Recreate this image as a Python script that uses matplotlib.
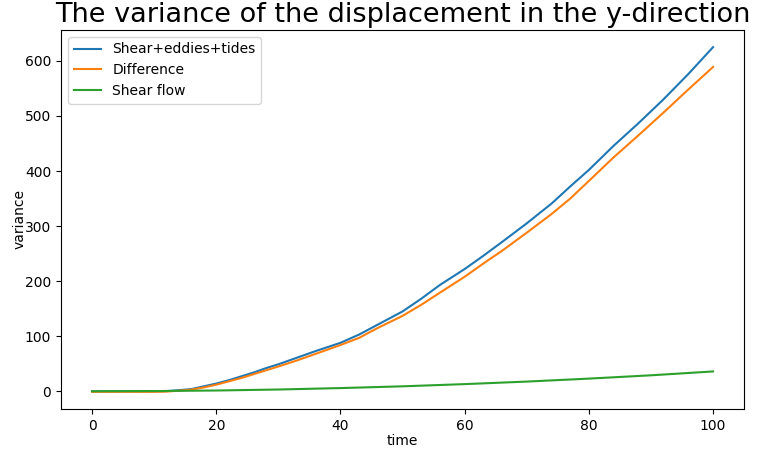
import numpy as np
import matplotlib
matplotlib.use("Agg")
import matplotlib.pyplot as plt

# variance of y-displacement vs time for the three runs
t_total = [0, 5, 10, 12, 14, 16, 18, 20, 22, 24, 26, 28, 30, 33, 36, 40, 43, 46, 50,
           53, 56, 60, 63, 66, 70, 74, 77, 80, 84, 88, 92, 96, 100]
var_total = [0, 0, 0, 0.3, 2, 4, 9, 14, 20, 27, 34, 42, 49, 61, 73, 88, 103, 121, 145,
             168, 193, 222, 246, 271, 305, 341, 372, 402, 446, 487, 530, 576, 625]
var_diff = [-1, -1, -1, -0.5, 1, 3, 7, 12, 18, 24, 31, 38, 45, 56, 68, 84, 97, 115, 137,
            157, 179, 208, 232, 255, 288, 322, 350, 382, 425, 465, 506, 548, 589]

t_shear = [0, 10, 20, 30, 40, 50, 60, 70, 80, 90, 100]
var_shear = [0, 0.4, 1.4, 3.2, 5.8, 9, 13, 17.6, 23, 29, 36]

fig = plt.figure(figsize=(7.57, 4.53), dpi=100)
ax = fig.add_axes([0.0806, 0.097, 0.9024, 0.837])
ax.plot(t_total, var_total, label='Shear+eddies+tides')
ax.plot(t_total, var_diff, label='Difference')
ax.plot(t_shear, var_shear, label='Shear flow')

ax.set_title("The variance of the displacement in the y-direction", fontsize=19.5)
ax.set_xlabel("time", labelpad=1)
ax.set_ylabel("variance", labelpad=-1)
ax.legend(loc='upper left')
fig.savefig('out.png', dpi=100)
